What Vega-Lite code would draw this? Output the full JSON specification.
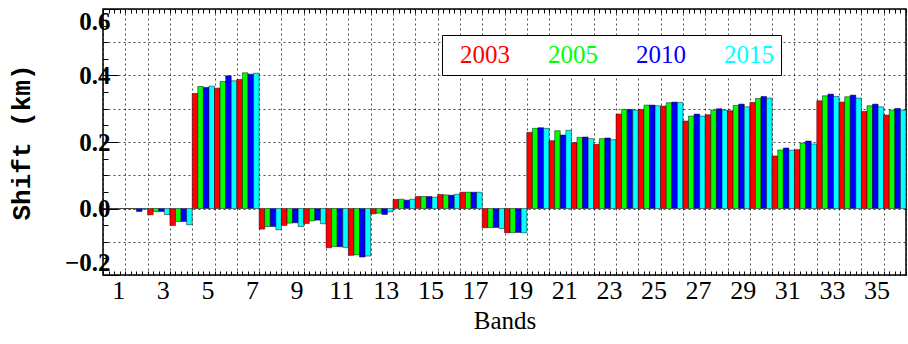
{
  "$schema": "https://vega.github.io/schema/vega-lite/v6.json",
  "width": 803,
  "height": 266,
  "autosize": {"type": "none"},
  "padding": {"left": 103, "top": 9, "right": 2, "bottom": 69},
  "background": "white",
  "config": {
    "view": {"stroke": "black", "strokeWidth": 1.5},
    "axis": {"labelFont": "Liberation Serif", "titleFont": "Liberation Serif", "labelColor": "black", "titleColor": "black"}
  },
  "data": {"values": [
    {"band":1,"year":"2003","value":0},{"band":1,"year":"2005","value":0},{"band":1,"year":"2010","value":0},{"band":1,"year":"2015","value":0},
    {"band":2,"year":"2003","value":-0.001},{"band":2,"year":"2005","value":-0.001},{"band":2,"year":"2010","value":-0.009},{"band":2,"year":"2015","value":-0.002},
    {"band":3,"year":"2003","value":-0.019},{"band":3,"year":"2005","value":-0.009},{"band":3,"year":"2010","value":-0.009},{"band":3,"year":"2015","value":-0.018},
    {"band":4,"year":"2003","value":-0.051},{"band":4,"year":"2005","value":-0.039},{"band":4,"year":"2010","value":-0.039},{"band":4,"year":"2015","value":-0.049},
    {"band":5,"year":"2003","value":0.346},{"band":5,"year":"2005","value":0.367},{"band":5,"year":"2010","value":0.364},{"band":5,"year":"2015","value":0.368},
    {"band":6,"year":"2003","value":0.362},{"band":6,"year":"2005","value":0.382},{"band":6,"year":"2010","value":0.399},{"band":6,"year":"2015","value":0.384},
    {"band":7,"year":"2003","value":0.388},{"band":7,"year":"2005","value":0.408},{"band":7,"year":"2010","value":0.404},{"band":7,"year":"2015","value":0.407},
    {"band":8,"year":"2003","value":-0.062},{"band":8,"year":"2005","value":-0.054},{"band":8,"year":"2010","value":-0.054},{"band":8,"year":"2015","value":-0.064},
    {"band":9,"year":"2003","value":-0.051},{"band":9,"year":"2005","value":-0.044},{"band":9,"year":"2010","value":-0.043},{"band":9,"year":"2015","value":-0.054},
    {"band":10,"year":"2003","value":-0.045},{"band":10,"year":"2005","value":-0.037},{"band":10,"year":"2010","value":-0.035},{"band":10,"year":"2015","value":-0.046},
    {"band":11,"year":"2003","value":-0.118},{"band":11,"year":"2005","value":-0.114},{"band":11,"year":"2010","value":-0.115},{"band":11,"year":"2015","value":-0.117},
    {"band":12,"year":"2003","value":-0.141},{"band":12,"year":"2005","value":-0.139},{"band":12,"year":"2010","value":-0.146},{"band":12,"year":"2015","value":-0.143},
    {"band":13,"year":"2003","value":-0.016},{"band":13,"year":"2005","value":-0.014},{"band":13,"year":"2010","value":-0.018},{"band":13,"year":"2015","value":-0.010},
    {"band":14,"year":"2003","value":0.027},{"band":14,"year":"2005","value":0.028},{"band":14,"year":"2010","value":0.025},{"band":14,"year":"2015","value":0.028},
    {"band":15,"year":"2003","value":0.036},{"band":15,"year":"2005","value":0.036},{"band":15,"year":"2010","value":0.036},{"band":15,"year":"2015","value":0.034},
    {"band":16,"year":"2003","value":0.042},{"band":16,"year":"2005","value":0.041},{"band":16,"year":"2010","value":0.040},{"band":16,"year":"2015","value":0.043},
    {"band":17,"year":"2003","value":0.049},{"band":17,"year":"2005","value":0.049},{"band":17,"year":"2010","value":0.049},{"band":17,"year":"2015","value":0.049},
    {"band":18,"year":"2003","value":-0.058},{"band":18,"year":"2005","value":-0.057},{"band":18,"year":"2010","value":-0.057},{"band":18,"year":"2015","value":-0.060},
    {"band":19,"year":"2003","value":-0.073},{"band":19,"year":"2005","value":-0.072},{"band":19,"year":"2010","value":-0.072},{"band":19,"year":"2015","value":-0.073},
    {"band":20,"year":"2003","value":0.229},{"band":20,"year":"2005","value":0.241},{"band":20,"year":"2010","value":0.243},{"band":20,"year":"2015","value":0.241},
    {"band":21,"year":"2003","value":0.204},{"band":21,"year":"2005","value":0.234},{"band":21,"year":"2010","value":0.221},{"band":21,"year":"2015","value":0.235},
    {"band":22,"year":"2003","value":0.198},{"band":22,"year":"2005","value":0.214},{"band":22,"year":"2010","value":0.215},{"band":22,"year":"2015","value":0.210},
    {"band":23,"year":"2003","value":0.193},{"band":23,"year":"2005","value":0.210},{"band":23,"year":"2010","value":0.212},{"band":23,"year":"2015","value":0.207},
    {"band":24,"year":"2003","value":0.284},{"band":24,"year":"2005","value":0.298},{"band":24,"year":"2010","value":0.298},{"band":24,"year":"2015","value":0.296},
    {"band":25,"year":"2003","value":0.298},{"band":25,"year":"2005","value":0.311},{"band":25,"year":"2010","value":0.311},{"band":25,"year":"2015","value":0.309},
    {"band":26,"year":"2003","value":0.308},{"band":26,"year":"2005","value":0.318},{"band":26,"year":"2010","value":0.320},{"band":26,"year":"2015","value":0.319},
    {"band":27,"year":"2003","value":0.263},{"band":27,"year":"2005","value":0.278},{"band":27,"year":"2010","value":0.284},{"band":27,"year":"2015","value":0.278},
    {"band":28,"year":"2003","value":0.282},{"band":28,"year":"2005","value":0.296},{"band":28,"year":"2010","value":0.300},{"band":28,"year":"2015","value":0.296},
    {"band":29,"year":"2003","value":0.294},{"band":29,"year":"2005","value":0.310},{"band":29,"year":"2010","value":0.314},{"band":29,"year":"2015","value":0.306},
    {"band":30,"year":"2003","value":0.319},{"band":30,"year":"2005","value":0.331},{"band":30,"year":"2010","value":0.337},{"band":30,"year":"2015","value":0.332},
    {"band":31,"year":"2003","value":0.158},{"band":31,"year":"2005","value":0.176},{"band":31,"year":"2010","value":0.182},{"band":31,"year":"2015","value":0.175},
    {"band":32,"year":"2003","value":0.177},{"band":32,"year":"2005","value":0.197},{"band":32,"year":"2010","value":0.203},{"band":32,"year":"2015","value":0.194},
    {"band":33,"year":"2003","value":0.324},{"band":33,"year":"2005","value":0.339},{"band":33,"year":"2010","value":0.344},{"band":33,"year":"2015","value":0.337},
    {"band":34,"year":"2003","value":0.320},{"band":34,"year":"2005","value":0.336},{"band":34,"year":"2010","value":0.341},{"band":34,"year":"2015","value":0.332},
    {"band":35,"year":"2003","value":0.292},{"band":35,"year":"2005","value":0.309},{"band":35,"year":"2010","value":0.314},{"band":35,"year":"2015","value":0.306},
    {"band":36,"year":"2003","value":0.281},{"band":36,"year":"2005","value":0.296},{"band":36,"year":"2010","value":0.301},{"band":36,"year":"2015","value":0.296}
  ]},
  "resolve": {"scale": {"x": "independent"}},
  "layer": [
    {
      "mark": {"type": "bar", "stroke": "black", "strokeWidth": 0.6, "strokeOpacity": 0.8},
      "encoding": {
        "x": {"field": "band", "type": "ordinal", "scale": {"paddingInner": 0, "paddingOuter": 0}, "axis": null},
        "xOffset": {"field": "year", "type": "nominal", "scale": {"paddingInner": 0, "paddingOuter": 0}},
        "y": {
          "field": "value", "type": "quantitative",
          "scale": {"domain": [-0.2, 0.6], "nice": false, "zero": false},
          "axis": {
            "title": "Shift (km)", "titleFont": "Liberation Mono", "titleFontSize": 26, "titleFontWeight": "bold", "titlePadding": 30,
            "values": [-0.2, -0.15, -0.1, -0.05, 0, 0.05, 0.1, 0.15, 0.2, 0.25, 0.3, 0.35, 0.4, 0.45, 0.5, 0.55, 0.6],
            "labelExpr": "abs(round(datum.value*20)) % 4 == 0 ? format(datum.value, '.1f') : ''",
            "labelFontSize": 25, "labelFontWeight": "bold", "labelPadding": 8, "labelFlush": true,
            "domain": false,
            "tickColor": "black",
            "tickSize": {"condition": {"test": "abs(round(datum.value*20)) % 4 == 0", "value": -15}, "value": -5},
            "grid": true, "gridColor": "black", "gridDash": [2, 3], "gridWidth": 1,
            "gridOpacity": {"condition": {"test": "abs(round(datum.value*20)) % 2 == 1", "value": 0}, "value": 0.7}
          }
        },
        "color": {
          "field": "year", "type": "nominal",
          "scale": {"domain": ["2003", "2005", "2010", "2015"], "range": ["#ff0000", "#00ff00", "#0000ff", "#00ffff"]},
          "legend": {
            "orient": "none", "legendX": 339, "legendY": 26, "direction": "horizontal", "title": null,
            "symbolSize": 0, "symbolOpacity": 0, "symbolStrokeWidth": 0, "labelOffset": -14,
            "labelFont": "Liberation Serif", "labelFontSize": 25, "columnPadding": 27,
            "labelColor": {"expr": "datum.value == '2003' ? '#ff0000' : datum.value == '2005' ? '#00ff00' : datum.value == '2010' ? '#0000ff' : '#00ffff'"},
            "padding": 7, "strokeColor": "black", "fillColor": "white",
            "encode": {
              "legend": {"strokeWidth": {"value": 2}}
            }
          }
        }
      }
    },
    {
      "mark": {"type": "rule", "opacity": 0},
      "encoding": {
        "x": {
          "field": "band", "type": "quantitative",
          "scale": {"domain": [0.5, 36.5], "nice": false, "zero": false},
          "axis": {
            "orient": "bottom", "title": "Bands", "titleFontSize": 25, "titleFontWeight": "normal", "titlePadding": 5,
            "values": [0.5,0.75,1,1.25,1.5,1.75,2,2.25,2.5,2.75,3,3.25,3.5,3.75,4,4.25,4.5,4.75,5,5.25,5.5,5.75,6,6.25,6.5,6.75,7,7.25,7.5,7.75,8,8.25,8.5,8.75,9,9.25,9.5,9.75,10,10.25,10.5,10.75,11,11.25,11.5,11.75,12,12.25,12.5,12.75,13,13.25,13.5,13.75,14,14.25,14.5,14.75,15,15.25,15.5,15.75,16,16.25,16.5,16.75,17,17.25,17.5,17.75,18,18.25,18.5,18.75,19,19.25,19.5,19.75,20,20.25,20.5,20.75,21,21.25,21.5,21.75,22,22.25,22.5,22.75,23,23.25,23.5,23.75,24,24.25,24.5,24.75,25,25.25,25.5,25.75,26,26.25,26.5,26.75,27,27.25,27.5,27.75,28,28.25,28.5,28.75,29,29.25,29.5,29.75,30,30.25,30.5,30.75,31,31.25,31.5,31.75,32,32.25,32.5,32.75,33,33.25,33.5,33.75,34,34.25,34.5,34.75,35,35.25,35.5,35.75,36,36.25,36.5],
            "labelExpr": "datum.value % 2 == 1 ? format(datum.value, 'd') : ''",
            "labelAngle": 0, "labelFontSize": 26, "labelPadding": 6, "labelOffset": 4, "labelOverlap": false, "labelFlush": false,
            "domain": false, "ticks": true, "tickColor": "black", "tickSize": -4, "tickWidth": 1,
            "grid": true, "gridColor": "black", "gridDash": [2, 3], "gridWidth": 1,
            "gridOpacity": {"condition": {"test": "datum.value % 1 == 0.5", "value": 0.7}, "value": 0}
          }
        }
      }
    },
    {
      "mark": {"type": "rule", "opacity": 0},
      "encoding": {
        "x": {
          "field": "band", "type": "quantitative",
          "scale": {"domain": [0.5, 36.5], "nice": false, "zero": false},
          "axis": {
            "orient": "top", "title": null, "labels": false, "domain": false, "grid": false,
            "values": [0.5,0.75,1,1.25,1.5,1.75,2,2.25,2.5,2.75,3,3.25,3.5,3.75,4,4.25,4.5,4.75,5,5.25,5.5,5.75,6,6.25,6.5,6.75,7,7.25,7.5,7.75,8,8.25,8.5,8.75,9,9.25,9.5,9.75,10,10.25,10.5,10.75,11,11.25,11.5,11.75,12,12.25,12.5,12.75,13,13.25,13.5,13.75,14,14.25,14.5,14.75,15,15.25,15.5,15.75,16,16.25,16.5,16.75,17,17.25,17.5,17.75,18,18.25,18.5,18.75,19,19.25,19.5,19.75,20,20.25,20.5,20.75,21,21.25,21.5,21.75,22,22.25,22.5,22.75,23,23.25,23.5,23.75,24,24.25,24.5,24.75,25,25.25,25.5,25.75,26,26.25,26.5,26.75,27,27.25,27.5,27.75,28,28.25,28.5,28.75,29,29.25,29.5,29.75,30,30.25,30.5,30.75,31,31.25,31.5,31.75,32,32.25,32.5,32.75,33,33.25,33.5,33.75,34,34.25,34.5,34.75,35,35.25,35.5,35.75,36,36.25,36.5],
            "ticks": true, "tickColor": "black", "tickSize": -4, "tickWidth": 1
          }
        }
      }
    }
  ]
}
